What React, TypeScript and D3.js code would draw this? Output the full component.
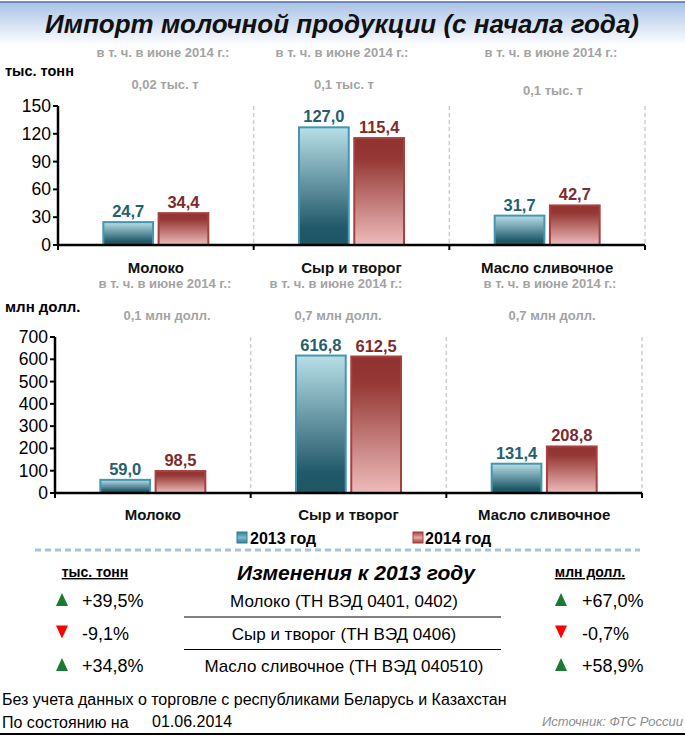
import React, { useEffect } from 'react';
import * as d3 from 'd3';

const categories = ['Молоко', 'Сыр и творог', 'Масло сливочное'];
const tonnes2013 = [24.7, 127.0, 31.7];
const tonnes2014 = [34.4, 115.4, 42.7];
const usd2013 = [59.0, 616.8, 131.4];
const usd2014 = [98.5, 612.5, 208.8];
const juneTonnes = ['0,02 тыс. т', '0,1 тыс. т', '0,1 тыс. т'];
const juneUsd = ['0,1 млн долл.', '0,7 млн долл.', '0,7 млн долл.'];
const tonnesTicks = [0, 30, 60, 90, 120, 150];
const usdTicks = [0, 100, 200, 300, 400, 500, 600, 700];
const seriesNames = ['2013 год', '2014 год'];
const changeLabels = ['Молоко (ТН ВЭД 0401, 0402)', 'Сыр и творог (ТН ВЭД 0406)', 'Масло сливочное (ТН ВЭД 040510)'];
const changeTonnes = [39.5, -9.1, 34.8];
const changeUsd = [67.0, -0.7, 58.9];

const FONT = 'Liberation Sans, Arial, sans-serif';
const GRAY = '#a3a3a3';
const C13 = '#24606f';
const C14 = '#7d2b2b';

const fmt1 = (v: number) => d3.format('.1f')(v).replace('.', ',').replace('\u2212', '-');
const fmtPct = (v: number) => (v > 0 ? '+' : '') + fmt1(v) + '%';

interface PanelProps {
  x0: number; x1: number; yTop: number; yBottom: number;
  ticks: number[]; a: number[]; b: number[];
  juneLabels: string[]; juneX: number[]; juneY: number[]; headY: number; catY: number;
}

function Panel(p: PanelProps) {
  const x = d3.scaleBand<string>().domain(categories).range([p.x0, p.x1]);
  const y = d3.scaleLinear().domain([0, d3.max(p.ticks) as number]).range([p.yBottom, p.yTop]);
  const bounds = categories.map((c) => x(c) as number).concat([p.x1]);
  return (
    <g>
      {bounds.slice(1).map((bx, i) => (
        <line key={'d' + i} x1={bx} x2={bx} y1={p.yTop} y2={p.yBottom} stroke="#cfcfcf" strokeWidth={1.5} strokeDasharray="4,3" />
      ))}
      {categories.map((c, i) => {
        const cx = (x(c) as number) + x.bandwidth() / 2;
        const inner = d3.scaleBand<string>().domain(['a', 'b']).range([cx - 52.5, cx + 52.5]).paddingInner(0.1);
        const vals = [p.a[i], p.b[i]];
        return (
          <g key={c}>
            {vals.map((v, j) => {
              const bx = inner(j === 0 ? 'a' : 'b') as number;
              return (
                <g key={j}>
                  <rect x={bx} y={y(v)} width={inner.bandwidth()} height={y(0) - y(v)}
                    fill={j === 0 ? 'url(#g13)' : 'url(#g14)'}
                    stroke={j === 0 ? '#4497b0' : '#a84040'} strokeWidth={2} />
                  <text x={bx + inner.bandwidth() / 2} y={y(v) - 5} textAnchor="middle"
                    fontFamily={FONT} fontWeight="bold" fontSize={16.5} fill={j === 0 ? C13 : C14}>{fmt1(v)}</text>
                </g>
              );
            })}
            <text x={cx} y={p.catY} textAnchor="middle" fontFamily={FONT} fontWeight="bold" fontSize={15} fill="#111">{c}</text>
            <text x={p.juneX[i]} y={p.headY} textAnchor="middle" fontFamily={FONT} fontWeight="bold" fontSize={13} fill={GRAY}>в т. ч. в июне 2014 г.:</text>
            <text x={p.juneX[i] + 2} y={p.juneY[i]} textAnchor="middle" fontFamily={FONT} fontWeight="bold" fontSize={13} fill={GRAY}>{p.juneLabels[i]}</text>
          </g>
        );
      })}
      <line x1={p.x0} x2={p.x0} y1={p.yTop} y2={p.yBottom} stroke="#000" strokeWidth={2.5} />
      <line x1={p.x0} x2={p.x1} y1={p.yBottom} y2={p.yBottom} stroke="#000" strokeWidth={2.5} />
      {bounds.map((bx, i) => (
        <line key={'t' + i} x1={bx} x2={bx} y1={p.yBottom} y2={p.yBottom + 5} stroke="#000" strokeWidth={2} />
      ))}
      {p.ticks.map((t) => (
        <g key={t}>
          <line x1={p.x0 - 5} x2={p.x0} y1={y(t)} y2={y(t)} stroke="#000" strokeWidth={2} />
          <text x={p.x0 - 7} y={y(t) + 6} textAnchor="end" fontFamily={FONT} fontSize={17.5} fill="#000">{t}</text>
        </g>
      ))}
    </g>
  );
}

function Tri({ x, y, up }: { x: number; y: number; up: boolean }) {
  const path = up
    ? `M${x - 6},${y + 6} L${x + 6},${y + 6} L${x},${y - 7} Z`
    : `M${x - 6},${y - 7} L${x + 6},${y - 7} L${x},${y + 6} Z`;
  return <path d={path} fill={up ? '#1a7a32' : '#ff0000'} />;
}

export default function App() {
  useEffect(() => {
    document.body.style.margin = '0';
  }, []);
  const rowY = d3.scaleLinear().domain([0, 2]).range([601, 666]);
  return (
    <svg width={685} height={739} style={{ display: 'block', background: '#fff' }}>
      <defs>
        <linearGradient id="title" x1="0" y1="0" x2="0" y2="1">
          <stop offset="0" stopColor="#a9c2e6" />
          <stop offset="1" stopColor="#ffffff" />
        </linearGradient>
        <linearGradient id="g13" x1="0" y1="0" x2="0" y2="1">
          <stop offset="0" stopColor="#b8dfe8" />
          <stop offset="0.85" stopColor="#22596a" />
          <stop offset="1" stopColor="#1f5664" />
        </linearGradient>
        <linearGradient id="g14" x1="0" y1="0" x2="0" y2="1">
          <stop offset="0" stopColor="#8f3230" />
          <stop offset="0.2" stopColor="#963935" />
          <stop offset="1" stopColor="#eebcbc" />
        </linearGradient>
        <linearGradient id="l13" x1="0" y1="0" x2="0" y2="1">
          <stop offset="0" stopColor="#2f7f96" />
          <stop offset="0.5" stopColor="#7fb8c8" />
          <stop offset="1" stopColor="#2f7f96" />
        </linearGradient>
        <linearGradient id="l14" x1="0" y1="0" x2="0" y2="1">
          <stop offset="0" stopColor="#a33c3a" />
          <stop offset="0.5" stopColor="#e3a9a9" />
          <stop offset="1" stopColor="#a33c3a" />
        </linearGradient>
      </defs>

      <rect x={0} y={2} width={685} height={44} fill="url(#title)" />
      <line x1={0} x2={685} y1={2} y2={2} stroke="#5070a0" strokeWidth={1.5} />
      <text x={342} y={33} textAnchor="middle" fontFamily={FONT} fontWeight="bold" fontStyle="italic" fontSize={26} fill="#111">
        Импорт молочной продукции (с начала года)
      </text>

      <text x={5} y={76} fontFamily={FONT} fontWeight="bold" fontSize={14.5} fill="#000">тыс. тонн</text>
      <Panel x0={58} x1={645} yTop={106} yBottom={245} ticks={tonnesTicks} a={tonnes2013} b={tonnes2014}
        juneLabels={juneTonnes} juneX={[163, 342, 551]} juneY={[89, 89, 95]} headY={57} catY={273} />

      <text x={5} y={312} fontFamily={FONT} fontWeight="bold" fontSize={15} fill="#000">млн долл.</text>
      <Panel x0={55} x1={642} yTop={337} yBottom={493} ticks={usdTicks} a={usd2013} b={usd2014}
        juneLabels={juneUsd} juneX={[165, 336, 550]} juneY={[320, 320, 320]} headY={288} catY={520} />

      {seriesNames.map((s, i) => (
        <g key={s}>
          <rect x={i === 0 ? 237 : 413} y={532} width={10} height={11} fill={i === 0 ? 'url(#l13)' : 'url(#l14)'}
            stroke={i === 0 ? '#2f7f96' : '#a33c3a'} strokeWidth={1} />
          <text x={i === 0 ? 250 : 425} y={544} fontFamily={FONT} fontWeight="bold" fontSize={16} fill="#000">{s}</text>
        </g>
      ))}
      <line x1={35} x2={640} y1={550} y2={550} stroke="#a9bfdf" strokeWidth={3} strokeDasharray="6,4" />

      <text x={95} y={577} textAnchor="middle" fontFamily={FONT} fontWeight="bold" fontSize={14} textDecoration="underline" fill="#000">тыс. тонн</text>
      <text x={356} y={580} textAnchor="middle" fontFamily={FONT} fontWeight="bold" fontStyle="italic" fontSize={21} fill="#000">Изменения к 2013 году</text>
      <text x={590} y={577} textAnchor="middle" fontFamily={FONT} fontWeight="bold" fontSize={14} textDecoration="underline" fill="#000">млн долл.</text>

      {changeLabels.map((lab, i) => {
        const ry = rowY(i);
        return (
          <g key={lab}>
            <Tri x={62} y={ry - 1} up={changeTonnes[i] > 0} />
            <text x={82} y={ry + 6} fontFamily={FONT} fontSize={18} fill="#000">{fmtPct(changeTonnes[i])}</text>
            <text x={344} y={ry + 6} textAnchor="middle" fontFamily={FONT} fontSize={17} fill="#000">{lab}</text>
            <Tri x={561} y={ry - 1} up={changeUsd[i] > 0} />
            <text x={582} y={ry + 6} fontFamily={FONT} fontSize={18} fill="#000">{fmtPct(changeUsd[i])}</text>
            {i < changeLabels.length - 1 && (
              <line x1={184} x2={501} y1={ry + 16} y2={ry + 16} stroke="#000" strokeWidth={1.2} />
            )}
          </g>
        );
      })}

      <text x={2} y={705} fontFamily={FONT} fontSize={16} fill="#000">Без учета данных о торговле с республиками Беларусь и Казахстан</text>
      <text x={2} y={728} fontFamily={FONT} fontSize={16} fill="#000">По состоянию на</text>
      <text x={152} y={727} fontFamily={FONT} fontSize={16} fill="#000">01.06.2014</text>
      <text x={683} y={726} textAnchor="end" fontFamily={FONT} fontStyle="italic" fontSize={13} fill="#8c8c8c">Источник: ФТС России</text>
      <line x1={0} x2={685} y1={734} y2={734} stroke="#000" strokeWidth={2} />
    </svg>
  );
}
